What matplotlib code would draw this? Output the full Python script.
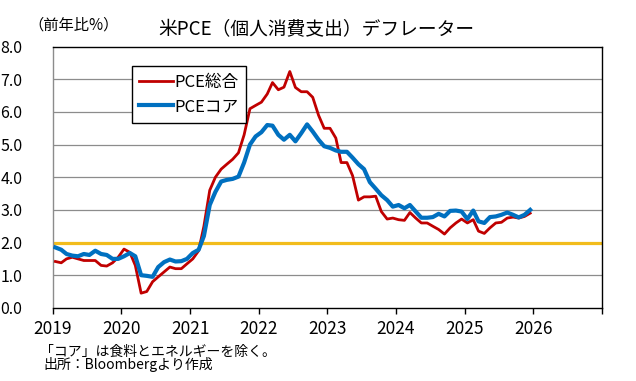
import numpy as np
import pandas as pd
import matplotlib
matplotlib.use("Agg")
from matplotlib import pyplot as plt
import matplotlib.dates as mdates

plt.rcParams['font.family'] = ['Noto Sans CJK JP', 'DejaVu Sans']

# monthly data, Jan 2019 - Dec 2025 (% y/y)
months = pd.date_range("2019-01-01", periods=84, freq="MS") + pd.Timedelta(days=14)

pce_total = [
    1.42, 1.38, 1.50, 1.55, 1.50, 1.45, 1.45, 1.45, 1.30, 1.28, 1.38, 1.55,  # 2019
    1.80, 1.70, 1.30, 0.45, 0.50, 0.80, 0.95, 1.10, 1.25, 1.20, 1.20, 1.35,  # 2020
    1.50, 1.75, 2.50, 3.60, 4.00, 4.25, 4.40, 4.55, 4.75, 5.30, 6.10, 6.20,  # 2021
    6.30, 6.55, 6.90, 6.68, 6.76, 7.24, 6.75, 6.62, 6.62, 6.45, 5.90, 5.50,  # 2022
    5.50, 5.20, 4.45, 4.45, 4.05, 3.30, 3.40, 3.40, 3.42, 2.95, 2.72, 2.75,  # 2023
    2.70, 2.68, 2.92, 2.75, 2.60, 2.60, 2.50, 2.40, 2.26, 2.45, 2.60, 2.72,  # 2024
    2.60, 2.70, 2.35, 2.28, 2.45, 2.60, 2.62, 2.75, 2.78, 2.75, 2.80, 2.90,  # 2025
]
pce_core = [
    1.85, 1.78, 1.65, 1.60, 1.58, 1.65, 1.62, 1.75, 1.65, 1.62, 1.50, 1.50,  # 2019
    1.58, 1.68, 1.58, 1.00, 0.98, 0.95, 1.25, 1.40, 1.48, 1.42, 1.43, 1.50,  # 2020
    1.68, 1.78, 2.20, 3.15, 3.55, 3.87, 3.92, 3.95, 4.02, 4.45, 5.00, 5.25,  # 2021
    5.38, 5.60, 5.58, 5.30, 5.15, 5.30, 5.10, 5.35, 5.62, 5.40, 5.15, 4.95,  # 2022
    4.90, 4.82, 4.78, 4.78, 4.60, 4.40, 4.25, 3.85, 3.65, 3.45, 3.30, 3.10,  # 2023
    3.15, 3.05, 3.15, 2.95, 2.76, 2.76, 2.78, 2.88, 2.80, 2.97, 2.98, 2.95,  # 2024
    2.72, 2.98, 2.65, 2.60, 2.78, 2.80, 2.85, 2.92, 2.85, 2.77, 2.85, 3.00,  # 2025
]
target = 2.0
yticks = np.arange(0, 9, 1)
years = list(range(2019, 2028))

fig = plt.figure(figsize=(6.36, 3.81), dpi=100)
ax = fig.add_axes([0.083, 0.192, 0.8635, 0.6855])

for y in yticks[1:-1]:
    ax.axhline(y, color="#8c8c8c", lw=0.9, zorder=1)
ax.axhline(target, color="#f2bc1c", lw=2.3, zorder=2)

ax.plot(months, pce_total, color="#c00000", lw=2.0, label="PCE総合", zorder=3)
ax.plot(months, pce_core, color="#0070c0", lw=3.0, label="PCEコア", zorder=4)

ax.set_xlim(pd.Timestamp("2019-01-01"), pd.Timestamp("2027-01-01"))
ax.set_ylim(0, 8)
ax.set_yticks(yticks)
ax.set_yticklabels([f"{v:.1f}" for v in yticks])
ax.set_xticks([pd.Timestamp(f"{y}-01-01") for y in years])
ax.set_xticklabels([str(y) for y in years[:-1]] + [""])

ax.tick_params(axis="x", length=4, width=1, direction="out", labelsize=12.5, pad=5)
ax.tick_params(axis="y", length=0, labelsize=11.5, pad=22)

for side in ["top", "right", "bottom"]:
    ax.spines[side].set_color("black")
    ax.spines[side].set_linewidth(1.0)
ax.spines["left"].set_color("#8c8c8c")
ax.spines["left"].set_linewidth(1.0)

leg = ax.legend(loc="upper left", bbox_to_anchor=(0.144, 0.925), fontsize=12,
                frameon=True, fancybox=False, edgecolor="black", framealpha=1,
                handlelength=2.0, handletextpad=0.1, borderpad=0.45, labelspacing=0.45,
                borderaxespad=0)
leg.get_frame().set_linewidth(1.0)

fig.text(0.498, 0.922, "米PCE（個人消費支出）デフレーター", ha="center", va="center", fontsize=13.5)
fig.text(0.045, 0.935, "（前年比%）", ha="left", va="center", fontsize=11)
fig.text(0.063, 0.077, "「コア」は食料とエネルギーを除く。", ha="left", va="center", fontsize=10)
fig.text(0.068, 0.042, "出所：Bloombergより作成", ha="left", va="center", fontsize=10)

fig.savefig("out.png", dpi=100)
